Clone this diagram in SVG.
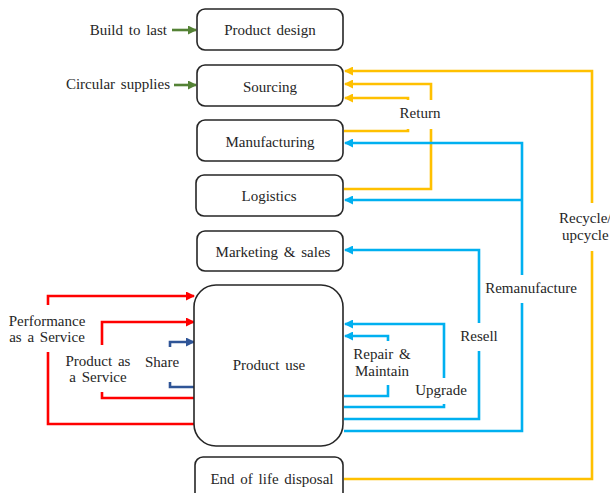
<svg xmlns="http://www.w3.org/2000/svg" width="610" height="493" viewBox="0 0 610 493">
  <style>
    .box { fill: #ffffff; stroke: #262626; stroke-width: 1.6; }
    .t { font-family: "Liberation Serif", "Times New Roman", serif; font-size: 15px; fill: #262626; text-anchor: middle; word-spacing: 2px; }
    .c { fill: none; stroke-width: 2.6; stroke-linejoin: miter; }
    .yel { stroke: #ffc000; }
    .blu { stroke: #00b0f0; }
    .red { stroke: #ff0000; }
    .nav { stroke: #2f5597; }
    .grn { stroke: #548235; }
    .lbl { fill: #ffffff; stroke: none; }
  </style>
  <defs>
    <marker id="ah-yel" markerUnits="userSpaceOnUse" markerWidth="9" markerHeight="9" refX="8" refY="4.5" orient="auto">
      <path d="M0,0 L9,4.5 L0,9 Z" fill="#ffc000"/>
    </marker>
    <marker id="ah-blu" markerUnits="userSpaceOnUse" markerWidth="9" markerHeight="9" refX="8" refY="4.5" orient="auto">
      <path d="M0,0 L9,4.5 L0,9 Z" fill="#00b0f0"/>
    </marker>
    <marker id="ah-red" markerUnits="userSpaceOnUse" markerWidth="9" markerHeight="9" refX="8" refY="4.5" orient="auto">
      <path d="M0,0 L9,4.5 L0,9 Z" fill="#ff0000"/>
    </marker>
    <marker id="ah-nav" markerUnits="userSpaceOnUse" markerWidth="9" markerHeight="9" refX="8" refY="4.5" orient="auto">
      <path d="M0,0 L9,4.5 L0,9 Z" fill="#2f5597"/>
    </marker>
    <marker id="ah-grn" markerUnits="userSpaceOnUse" markerWidth="9" markerHeight="9" refX="8" refY="4.5" orient="auto">
      <path d="M0,0 L9,4.5 L0,9 Z" fill="#548235"/>
    </marker>
  </defs>

  <rect width="610" height="493" fill="#ffffff"/>

  <!-- connectors -->
  <g id="connectors">
    <!-- inputs -->
    <path class="c grn" d="M172,30 H196" marker-end="url(#ah-grn)"/>
    <path class="c grn" d="M174,85 H196" marker-end="url(#ah-grn)"/>

    <!-- recycle / upcycle -->
    <path class="c yel" d="M344,479 H592 V71 H345" marker-end="url(#ah-yel)"/>
    <!-- return -->
    <path class="c yel" d="M344,189 H431 V84 H345" marker-end="url(#ah-yel)"/>
    <path class="c yel" d="M344,131 H408 V98 H345" marker-end="url(#ah-yel)"/>

    <!-- remanufacture -->
    <path class="c blu" d="M344,431 H522 V143 H345" marker-end="url(#ah-blu)"/>
    <path class="c blu" d="M522,200 H345" marker-end="url(#ah-blu)"/>
    <!-- resell -->
    <path class="c blu" d="M344,419 H479 V250 H345" marker-end="url(#ah-blu)"/>
    <!-- upgrade -->
    <path class="c blu" d="M344,407 H444 V324 H345" marker-end="url(#ah-blu)"/>
    <!-- repair & maintain -->
    <path class="c blu" d="M344,396 H388 V336 H345" marker-end="url(#ah-blu)"/>

    <!-- performance as a service -->
    <path class="c red" d="M194,424 H48 V296 H194" marker-end="url(#ah-red)"/>
    <!-- product as a service -->
    <path class="c red" d="M194,398 H102 V322 H194" marker-end="url(#ah-red)"/>
    <!-- share -->
    <path class="c nav" d="M194,387 H170 V342 H194" marker-end="url(#ah-nav)"/>
  </g>

  <!-- connector labels -->
  <g id="labels">
    <rect class="lbl" x="394" y="100" width="72" height="29"/>
    <text class="t" x="420" y="118">Return</text>

    <rect class="lbl" x="556" y="203" width="54" height="48"/>
    <text class="t" x="559" y="223" style="text-anchor:start">Recycle/</text>
    <text class="t" x="562" y="240" style="text-anchor:start">upcycle</text>

    <rect class="lbl" x="483" y="275" width="97" height="28"/>
    <text class="t" x="531" y="293">Remanufacture</text>

    <rect class="lbl" x="455" y="323" width="48" height="28"/>
    <text class="t" x="479" y="341">Resell</text>

    <rect class="lbl" x="352" y="341" width="60" height="44"/>
    <text class="t" x="382" y="359">Repair &amp;</text>
    <text class="t" x="382" y="376">Maintain</text>

    <rect class="lbl" x="416" y="378" width="52" height="26"/>
    <text class="t" x="441" y="395">Upgrade</text>

    <rect class="lbl" x="0" y="305" width="99" height="47"/>
    <text class="t" x="47" y="326">Performance</text>
    <text class="t" x="47" y="342">as a Service</text>

    <rect class="lbl" x="56" y="345" width="84" height="47"/>
    <text class="t" x="98" y="366">Product as</text>
    <text class="t" x="98" y="382">a Service</text>

    <rect class="lbl" x="143" y="347" width="38" height="35"/>
    <text class="t" x="162" y="367">Share</text>

    <text class="t" x="167" y="35" style="text-anchor:end">Build to last</text>
    <text class="t" x="170" y="89" style="text-anchor:end">Circular supplies</text>
  </g>

  <!-- nodes -->
  <g id="product-design">
    <rect class="box" x="197" y="9" width="146" height="41" rx="8"/>
    <text class="t" x="270" y="35">Product design</text>
  </g>
  <g id="sourcing">
    <rect class="box" x="197" y="65" width="146" height="41" rx="8"/>
    <text class="t" x="270" y="92">Sourcing</text>
  </g>
  <g id="manufacturing">
    <rect class="box" x="197" y="120" width="146" height="41" rx="8"/>
    <text class="t" x="270" y="147">Manufacturing</text>
  </g>
  <g id="logistics">
    <rect class="box" x="196" y="175" width="147" height="41" rx="8"/>
    <text class="t" x="269" y="201">Logistics</text>
  </g>
  <g id="marketing-sales">
    <rect class="box" x="197" y="231" width="146" height="40" rx="8"/>
    <text class="t" x="273" y="257">Marketing &amp; sales</text>
  </g>
  <g id="product-use">
    <rect class="box" x="194" y="285" width="149" height="161" rx="22"/>
    <text class="t" x="269" y="370">Product use</text>
  </g>
  <g id="end-of-life">
    <rect class="box" x="195" y="457" width="148" height="45" rx="8"/>
    <text class="t" x="272" y="484">End of life disposal</text>
  </g>
</svg>
